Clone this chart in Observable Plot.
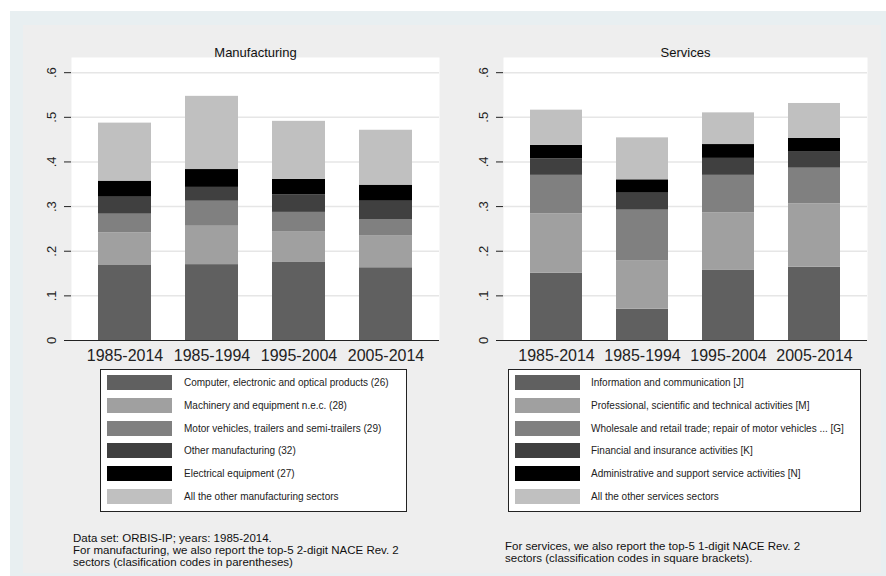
<!DOCTYPE html>
<html><head><meta charset="utf-8">
<script src="https://cdn.jsdelivr.net/npm/d3@7"></script>
<script src="https://cdn.jsdelivr.net/npm/@observablehq/plot@0.6"></script>
<style>
body{margin:0;background:#fff;font-family:"Liberation Sans",Arial,sans-serif;}
#page{position:relative;width:886px;height:576px;overflow:hidden;background:#fff;}
#blue{position:absolute;left:10px;top:11px;width:876px;height:565px;background:#e8eff1;}
#grey{position:absolute;left:23px;top:25px;width:858px;height:548px;background:#eeeeee;}
.panel{position:absolute;top:40px;}
.legend{position:absolute;top:369px;height:143px;background:#fff;border:1px solid #222;box-sizing:border-box;}
.sw{position:absolute;width:65px;height:15px;}
.lab{position:absolute;font-size:10px;line-height:15px;white-space:nowrap;color:#222;}
.note{position:absolute;font-size:11.5px;line-height:12px;white-space:nowrap;color:#111;}
</style></head>
<body>
<div id="page">
  <div id="blue"></div>
  <div id="grey"></div>
  <div id="left" class="panel" style="left:23px"></div>
  <div id="right" class="panel" style="left:455px"></div>
  <div id="legL" class="legend" style="left:100px;width:307px"></div>
  <div id="legR" class="legend" style="left:508px;width:353px"></div>
  <div class="note" style="left:73px;top:532px">Data set: ORBIS-IP; years: 1985-2014.<br>For manufacturing, we also report the top-5 2-digit NACE Rev. 2<br>sectors (clasification codes in parentheses)</div>
  <div class="note" style="left:505px;top:540px">For services, we also report the top-5 1-digit NACE Rev. 2<br>sectors (classification codes in square brackets).</div>
</div>
<script>
const periods = ["1985-2014", "1985-1994", "1995-2004", "2005-2014"];
const yTicks = [0, 0.1, 0.2, 0.3, 0.4, 0.5, 0.6];
const greys = ["#606060", "#a0a0a0", "#808080", "#404040", "#000000", "#c0c0c0"];

const manufCats = [
  "Computer, electronic and optical products (26)",
  "Machinery and equipment n.e.c. (28)",
  "Motor vehicles, trailers and semi-trailers (29)",
  "Other manufacturing (32)",
  "Electrical equipment (27)",
  "All the other manufacturing sectors"
];
// rows = categories, columns = periods
const manufShares = [
  [0.168, 0.170, 0.176, 0.163],
  [0.073, 0.086, 0.068, 0.072],
  [0.042, 0.056, 0.043, 0.036],
  [0.038, 0.031, 0.039, 0.041],
  [0.036, 0.040, 0.035, 0.036],
  [0.130, 0.164, 0.130, 0.123]
];

const servCats = [
  "Information and communication [J]",
  "Professional, scientific and technical activities [M]",
  "Wholesale and retail trade; repair of motor vehicles ... [G]",
  "Financial and insurance activities [K]",
  "Administrative and support service activities [N]",
  "All the other services sectors"
];
const servShares = [
  [0.151, 0.070, 0.157, 0.164],
  [0.133, 0.109, 0.129, 0.142],
  [0.086, 0.113, 0.084, 0.080],
  [0.037, 0.038, 0.038, 0.036],
  [0.030, 0.030, 0.031, 0.031],
  [0.079, 0.094, 0.071, 0.078]
];

function panel(title, cats, shares, marginRight) {
  const data = [];
  cats.forEach((c, i) => periods.forEach((p, j) => data.push({period: p, cat: c, value: shares[i][j]})));
  return Plot.plot({
    width: 425, height: 328,
    marginLeft: 48, marginRight, marginTop: 17, marginBottom: 28,
    style: {background: "transparent", fontFamily: "'Liberation Sans', Arial, sans-serif", color: "#222", overflow: "visible"},
    x: {domain: periods, paddingInner: 0.39, paddingOuter: 0.3, axis: null},
    y: {domain: [0, 0.634], axis: null},
    color: {domain: cats, range: greys},
    marks: [
      Plot.frame({fill: "white", stroke: null}),
      Plot.ruleY(yTicks.slice(1), {stroke: "#e6e6e6", strokeWidth: 1.5}),
      Plot.barY(data, Plot.stackY({x: "period", y: "value", fill: "cat", order: cats})),
      Plot.ruleY([0], {stroke: "#222", strokeWidth: 1.2}),
      Plot.axisY({ticks: yTicks, tickFormat: d => d === 0 ? "0" : d3.format(".1f")(d).replace(/^0/, ""),
        tickRotate: -90, fontSize: 13, tickSize: 7, tickPadding: 9, line: true, label: null, stroke: "#222"}),
      Plot.axisX({tickSize: 0, tickPadding: 9, fontSize: 16, label: null}),
      Plot.text([title], {frameAnchor: "top", dy: -10, fontSize: 13, fill: "#111"})
    ]
  });
}

document.getElementById("left").appendChild(panel("Manufacturing", manufCats, manufShares, 9));
document.getElementById("right").appendChild(panel("Services", servCats, servShares, 13));

function legend(id, cats, labelLeft) {
  const el = document.getElementById(id);
  cats.forEach((c, i) => {
    const top = 5 + i * 22.8;
    const sw = document.createElement("div");
    sw.className = "sw";
    sw.style.left = "6px"; sw.style.top = top + "px"; sw.style.background = greys[i];
    el.appendChild(sw);
    const lab = document.createElement("div");
    lab.className = "lab";
    lab.style.left = labelLeft + "px"; lab.style.top = top + "px";
    lab.textContent = c;
    el.appendChild(lab);
  });
}
legend("legL", manufCats, 83);
legend("legR", servCats, 82);
</script>
</body></html>
